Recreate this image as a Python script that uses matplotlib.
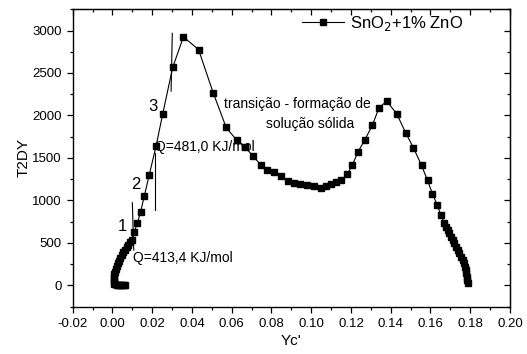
import matplotlib
matplotlib.use("Agg")
import matplotlib.pyplot as plt
from matplotlib.ticker import MultipleLocator

plt.rcParams['font.family'] = ['Liberation Sans', 'DejaVu Sans']

# Data series: Yc' (x) vs T2DY (y)
yc = [0.0063, 0.0056, 0.0049, 0.0042, 0.0035, 0.0028, 0.0021, 0.0014, 0.0009, 0.0006,
      0.0006, 0.0007, 0.0009, 0.0012, 0.0016, 0.0021, 0.0027, 0.0033, 0.0040, 0.0047,
      0.0055, 0.0063, 0.0071, 0.0080, 0.0088, 0.0096, 0.0110, 0.0125, 0.0142, 0.0160,
      0.0185, 0.0219, 0.0253, 0.0303, 0.0357, 0.0433, 0.0508, 0.0572, 0.0626, 0.0665,
      0.0707, 0.0747, 0.0780, 0.0814, 0.0848, 0.0882, 0.0912, 0.0946, 0.0979, 0.1013,
      0.1047, 0.1072, 0.1097, 0.1127, 0.1151, 0.1181, 0.1206, 0.1235, 0.1270, 0.1307,
      0.1341, 0.1380, 0.1430, 0.1475, 0.1514, 0.1555, 0.1585, 0.1610, 0.1635, 0.1652,
      0.1669, 0.1678, 0.1686, 0.1694, 0.1702, 0.1711, 0.1719, 0.1728, 0.1736, 0.1745,
      0.1753, 0.1762, 0.1770, 0.1774, 0.1778, 0.1781, 0.1783, 0.1785, 0.1787]
t2dy = [2, 2, 2, 2, 3, 4, 6, 10, 20, 40,
        70, 100, 130, 160, 192, 225, 258, 290, 322, 355,
        388, 420, 450, 480, 505, 534, 631, 730, 868, 1049,
        1300, 1635, 2020, 2565, 2925, 2776, 2259, 1859, 1706, 1627,
        1526, 1412, 1361, 1333, 1282, 1227, 1204, 1188, 1184, 1165,
        1149, 1169, 1196, 1216, 1235, 1306, 1412, 1569, 1714, 1882,
        2090, 2168, 2020, 1796, 1620, 1412, 1235, 1078, 940, 827,
        730, 690, 651, 612, 573, 534, 495, 456, 417, 378,
        338, 300, 260, 221, 182, 142, 103, 64, 26]

# Tangent lines (x pair, y pair)
tan1_x = [0.0100, 0.0107]
tan1_y = [972, 416]
tan2_x = [0.0212, 0.0212]
tan2_y = [1552, 886]
tan3_x = [0.0301, 0.0295]
tan3_y = [2967, 2286]

series_label = 'SnO$_2$+1% ZnO'
x_ticks = [-0.02, 0.00, 0.02, 0.04, 0.06, 0.08, 0.10, 0.12, 0.14, 0.16, 0.18, 0.20]
y_ticks = [0, 500, 1000, 1500, 2000, 2500, 3000]

fig = plt.figure(figsize=(5.27, 3.54), dpi=100)
ax = fig.add_axes([72.7 / 527, (354 - 306.5) / 354, (510 - 72.7) / 527, (306.5 - 9.3) / 354])

ax.plot(yc, t2dy, color='black', lw=0.8, marker='s', markersize=5.0,
        markerfacecolor='black', markeredgecolor='black', label=series_label)
for tx, ty in [(tan1_x, tan1_y), (tan2_x, tan2_y), (tan3_x, tan3_y)]:
    ax.plot(tx, ty, color='black', lw=0.8)

ax.set_xlim(-0.02, 0.20)
ax.set_ylim(-250, 3250)
ax.set_xticks(x_ticks)
ax.set_xticklabels([f'{v:.2f}' for v in x_ticks])
ax.set_yticks(y_ticks)
ax.xaxis.set_minor_locator(MultipleLocator(0.01))
ax.yaxis.set_minor_locator(MultipleLocator(250))

ax.tick_params(which='both', direction='out', labelsize=9.5, width=0.9, colors='black')
ax.tick_params(which='major', length=4.5)
ax.tick_params(which='minor', length=2.5)
for sp in ax.spines.values():
    sp.set_linewidth(1.0)

# mirrored inward ticks on top and right
axt = ax.secondary_xaxis('top')
axt.set_xticks(x_ticks)
axt.xaxis.set_minor_locator(MultipleLocator(0.01))
axt.tick_params(which='both', direction='in', labeltop=False, width=0.9)
axt.tick_params(which='major', length=4.5)
axt.tick_params(which='minor', length=2.5)
axr = ax.secondary_yaxis('right')
axr.set_yticks(y_ticks)
axr.yaxis.set_minor_locator(MultipleLocator(250))
axr.tick_params(which='both', direction='in', labelright=False, width=0.9)
axr.tick_params(which='major', length=4.5)
axr.tick_params(which='minor', length=2.5)

ax.set_xlabel("Yc'", fontsize=11, labelpad=3)
ax.set_ylabel('T2DY', fontsize=11, labelpad=1)

ax.text(0.0050, 690, '1', fontsize=12, ha='center', va='center')
ax.text(0.0118, 1190, '2', fontsize=12, ha='center', va='center')
ax.text(0.0202, 2100, '3', fontsize=12, ha='center', va='center')
ax.text(0.0103, 320, 'Q=413,4 KJ/mol', fontsize=10, ha='left', va='center')
ax.text(0.0215, 1630, 'Q=481,0 KJ/mol', fontsize=10, ha='left', va='center')
ax.text(0.0563, 2130, 'transição - formação de', fontsize=10, ha='left', va='center')
ax.text(0.0995, 1895, 'solução sólida', fontsize=10, ha='center', va='center')

ax.legend(loc='upper left', bbox_to_anchor=((302 - 72.7) / 437.3, 0.985), frameon=False,
          fontsize=12, handlelength=2.5, handletextpad=0.35, borderpad=0, borderaxespad=0)

fig.savefig('out.png', dpi=100)
